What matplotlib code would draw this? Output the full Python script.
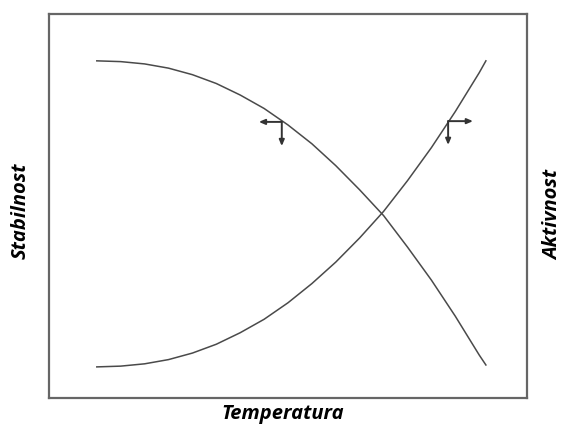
import matplotlib
matplotlib.use("Agg")
from matplotlib import pyplot as plt

# curve points (x, y in 0..10 units)
curve_x = [1.0, 1.5, 2.0, 2.5, 3.0, 3.5, 4.0, 4.5, 5.0, 5.5,
           6.0, 6.5, 7.0, 7.5, 8.0, 8.5, 9.0, 9.14]
stab_y = [8.78, 8.76, 8.70, 8.59, 8.42, 8.19, 7.89, 7.54, 7.11, 6.62,
          6.05, 5.42, 4.75, 3.93, 3.07, 2.13, 1.12, 0.86]
akt_y = [0.81, 0.83, 0.89, 1.00, 1.17, 1.40, 1.70, 2.05, 2.48, 2.98,
         3.54, 4.17, 4.86, 5.66, 6.52, 7.46, 8.47, 8.78]

# arrow markers: (junction x, junction y, horizontal end x, vertical end y)
markers = [(4.87, 7.19, 4.39, 6.56), (8.35, 7.21, 8.87, 6.59)]

xlabel = "Temperatura"
ylabel_left = "Stabilnost"
ylabel_right = "Aktivnost"

fig = plt.figure(figsize=(5.63, 4.27), dpi=100)
ax = fig.add_axes([49 / 563, 1 - 399 / 427, 478 / 563, 384 / 427])

ax.plot(curve_x, stab_y, color="#4a4a4a", lw=1.1)
ax.plot(curve_x, akt_y, color="#4a4a4a", lw=1.1)

for jx, jy, hx, vy in markers:
    for tx, ty in [(hx, jy), (jx, vy)]:
        ax.annotate("", xy=(tx, ty), xytext=(jx, jy),
                    arrowprops=dict(arrowstyle="-|>,head_length=0.35,head_width=0.15",
                                    color="#333333", lw=1.4,
                                    shrinkA=0, shrinkB=0))

ax.set_xlim(0, 10)
ax.set_ylim(0, 10)
ax.set_xticks([])
ax.set_yticks([])
for s in ax.spines.values():
    s.set_color("#666666")
    s.set_linewidth(1.6)

font = dict(family=["Open Sans", "DejaVu Sans"], weight="bold", style="italic", size=14.5)
fig.text(283 / 563, 1 - 414 / 427, xlabel, ha="center", va="center", **font)
fig.text(21 / 563, 1 - 211 / 427, ylabel_left, ha="center", va="center", rotation=90, **font)
fig.text(553 / 563, 1 - 215 / 427, ylabel_right, ha="center", va="center", rotation=90, **font)

fig.savefig("out.png", dpi=100)
